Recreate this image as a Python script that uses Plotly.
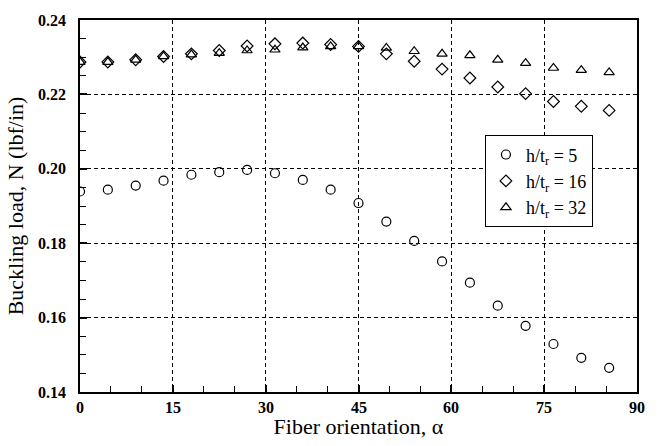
import plotly.graph_objects as go

alpha = [0, 4.5, 9, 13.5, 18, 22.5, 27, 31.5, 36, 40.5, 45, 49.5, 54, 58.5, 63, 67.5, 72, 76.5, 81, 85.5]
n_h5 = [0.1939, 0.1944, 0.1955, 0.1968, 0.1984, 0.1991, 0.1997, 0.1988, 0.1970, 0.1944, 0.1908,
        0.1858, 0.1806, 0.1751, 0.1694, 0.1632, 0.1578, 0.1529, 0.1492, 0.1465]
n_h16 = [0.2287, 0.2287, 0.2293, 0.2302, 0.2309, 0.2318, 0.2330, 0.2336, 0.2338, 0.2334, 0.2329,
         0.2309, 0.2289, 0.2268, 0.2244, 0.2220, 0.2202, 0.2181, 0.2168, 0.2157]
n_h32 = [0.2287, 0.2287, 0.2293, 0.2302, 0.2307, 0.2311, 0.2318, 0.2320, 0.2326, 0.2329, 0.2329,
         0.2325, 0.2316, 0.2309, 0.2305, 0.2293, 0.2284, 0.2271, 0.2265, 0.2259]
names = ["h/t<sub>r</sub> = 5", "h/t<sub>r</sub> = 16", "h/t<sub>r</sub> = 32"]
x_ticks = [0, 15, 30, 45, 60, 75, 90]
y_ticks = [0.14, 0.16, 0.18, 0.20, 0.22, 0.24]
x_range = [0, 90]
y_range = [0.14, 0.24]

serif = "Liberation Serif, Times New Roman, serif"
fig = go.Figure()
for y, nm, sym, sz in [(n_h5, names[0], "circle-open", 9),
                       (n_h16, names[1], "diamond-open", 9),
                       (n_h32, names[2], "triangle-up-open", 9)]:
    fig.add_trace(go.Scatter(x=alpha, y=y, mode="markers", name=nm,
                             marker=dict(symbol=sym, size=sz, color="black",
                                         line=dict(color="black", width=1.2))))

common = dict(showline=True, linecolor="black", linewidth=2, mirror=True,
              showgrid=True, gridcolor="black", griddash="4px,3px", gridwidth=1,
              ticks="inside", ticklen=7, tickwidth=1.5, tickcolor="black", zeroline=False,
              showticklabels=False)
xaxis = dict(range=x_range, tickmode="array", tickvals=x_ticks,
             title=dict(text="Fiber orientation, α", font=dict(family=serif, size=22, color="black"), standoff=26),
             **common)
yaxis = dict(range=y_range, tickmode="array", tickvals=y_ticks,
             title=dict(text="Buckling load, N (lbf/in)", font=dict(family=serif, size=22, color="black"), standoff=48),
             **common)
# minor tick axes (no labels)
xaxis2 = dict(range=x_range, overlaying="x", side="bottom", anchor="y", dtick=5, tick0=0,
              ticks="inside", ticklen=6, tickwidth=1.2, tickcolor="black",
              showticklabels=False, showgrid=False, zeroline=False, showline=False)
yaxis2 = dict(range=y_range, overlaying="y", side="left", anchor="x", dtick=0.005, tick0=0.14,
              ticks="inside", ticklen=6, tickwidth=1.2, tickcolor="black",
              showticklabels=False, showgrid=False, zeroline=False, showline=False)
fig.add_trace(go.Scatter(x=[None], y=[None], xaxis="x2", yaxis="y2", showlegend=False,
                         hoverinfo="skip", mode="markers"))

tick_font = dict(family=serif, size=16, color="black", weight="bold")
annotations = []
for v in x_ticks:
    annotations.append(dict(x=v, y=0, xref="x", yref="paper", text=str(v), showarrow=False,
                            xanchor="center", yanchor="top", yshift=-5, font=tick_font))
for v in y_ticks:
    annotations.append(dict(x=0, y=v, xref="paper", yref="y", text=f"{v:.2f}", showarrow=False,
                            xanchor="right", yanchor="middle", xshift=-12, font=tick_font))

fig.update_layout(width=659, height=446, plot_bgcolor="white", paper_bgcolor="white",
                  margin=dict(l=80, r=22, t=20, b=54),
                  font=dict(family=serif, size=17, color="black"),
                  xaxis=xaxis, yaxis=yaxis, xaxis2=xaxis2, yaxis2=yaxis2,
                  annotations=annotations,
                  legend=dict(x=0.727, y=0.69, xanchor="left", yanchor="top",
                              bgcolor="white", bordercolor="black", borderwidth=1,
                              font=dict(family=serif, size=18, color="black"),
                              tracegroupgap=0, itemwidth=30))
fig.write_html("out.html")
